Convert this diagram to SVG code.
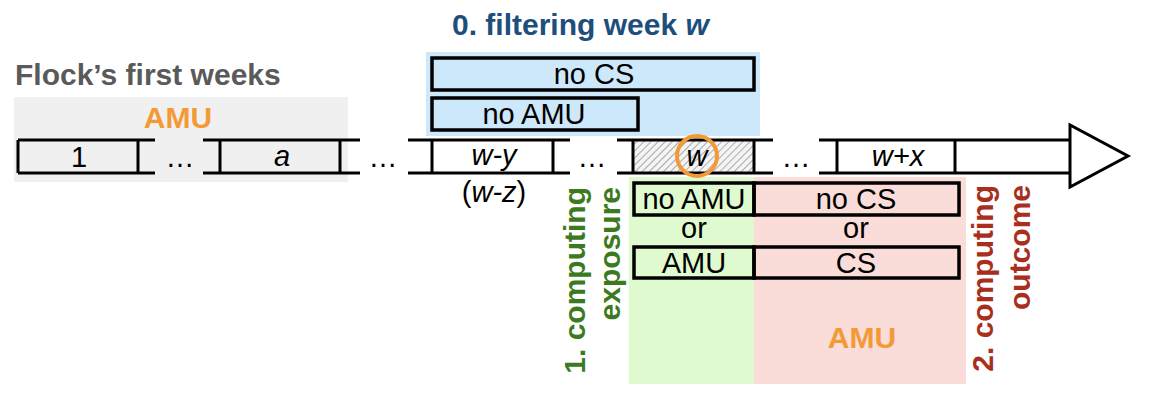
<svg xmlns="http://www.w3.org/2000/svg" width="1150" height="402" viewBox="0 0 1150 402">
<defs>
<pattern id="hatch" patternUnits="userSpaceOnUse" width="5" height="5" patternTransform="rotate(45)">
<rect width="5" height="5" fill="#f4f4f4"/>
<line x1="0" y1="0" x2="0" y2="5" stroke="#8a8a8a" stroke-width="1.4"/>
</pattern>
<style>
text{font-family:"Liberation Sans",Arial,Helvetica,sans-serif;font-size:29px;fill:#000}
.b{font-weight:bold;font-size:30px}
.i{font-style:italic}
.c{text-anchor:middle}
.ln{stroke:#000;stroke-width:3;fill:none}
.box{stroke:#000;stroke-width:3.5;fill:none}
.or{fill:#F39A37}
</style>
</defs>
<rect x="0" y="0" width="1150" height="402" fill="#fff"/>
<g id="backgrounds">
<rect x="14" y="97" width="334" height="85" fill="#f0f0f0"/>
<rect x="426" y="52" width="334" height="84" fill="#cde8fa"/>
<rect x="629" y="177" width="125" height="207" fill="#e0fad0"/>
<rect x="754" y="177" width="212" height="207" fill="#fadcd8"/>
</g>
<g id="labels">
<text x="15" y="85" class="b" style="fill:#5a5a5a">Flock’s first weeks</text>
<text x="178" y="128" class="b c or">AMU</text>
<text x="452" y="35" class="b" style="fill:#1d4e7c">0. filtering week <tspan class="i">w</tspan></text>
<text x="862" y="348" class="b c or">AMU</text>
<text transform="translate(585,187) rotate(-90)" class="b" style="fill:#3c7a20;text-anchor:end">1. computing</text>
<text transform="translate(620,187) rotate(-90)" class="b" style="fill:#3c7a20;text-anchor:end">exposure</text>
<text transform="translate(993,185) rotate(-90)" class="b" style="fill:#a82e1d;text-anchor:end">2. computing</text>
<text transform="translate(1030,185) rotate(-90)" class="b" style="fill:#a82e1d;text-anchor:end">outcome</text>
</g>
<g id="filter-boxes">
<rect x="432" y="58" width="322" height="32" class="box"/>
<text x="594" y="84" class="c">no CS</text>
<rect x="432" y="98" width="206" height="32" class="box"/>
<text x="534" y="124" class="c">no AMU</text>
</g>
<g id="timeline">
<rect x="633" y="140" width="121" height="33" fill="url(#hatch)"/>
<path class="ln" d="M18,140H155M18,173H155M18,140V173M138,140V173"/>
<path class="ln" d="M203,140H360M203,173H360M220,140V173M340,140V173"/>
<path class="ln" d="M408,140H570M408,173H570M432,140V173M553,140V173"/>
<path class="ln" d="M617,140H773M617,173H773M633,140V173M754,140V173"/>
<path class="ln" d="M819,140H1070M819,173H1070M837,140V173M955,140V173"/>
<path class="ln" d="M1070,125V187L1128,156Z"/>
<text x="79" y="167" class="c">1</text>
<text x="180" y="167" class="c">…</text>
<text x="282" y="166" class="c i">a</text>
<text x="383" y="167" class="c">…</text>
<text x="494" y="165" class="c i">w-y</text>
<text x="494" y="202" class="c">(<tspan class="i">w-z</tspan>)</text>
<text x="592" y="167" class="c">…</text>
<text x="697" y="166" class="c i">w</text>
<circle cx="697" cy="156" r="20" fill="none" stroke="#F39A37" stroke-width="4"/>
<text x="796" y="167" class="c">…</text>
<text x="898" y="166" class="c i">w+x</text>
</g>
<g id="exposure-outcome">
<rect x="634" y="183" width="120" height="32" class="box"/>
<rect x="754" y="183" width="205" height="32" class="box"/>
<rect x="634" y="247" width="120" height="31" class="box"/>
<rect x="754" y="247" width="205" height="31" class="box"/>
<text x="694" y="209" class="c">no AMU</text>
<text x="856" y="209" class="c">no CS</text>
<text x="694" y="238" class="c">or</text>
<text x="856" y="238" class="c">or</text>
<text x="694" y="273" class="c">AMU</text>
<text x="856" y="273" class="c">CS</text>
</g>
</svg>
